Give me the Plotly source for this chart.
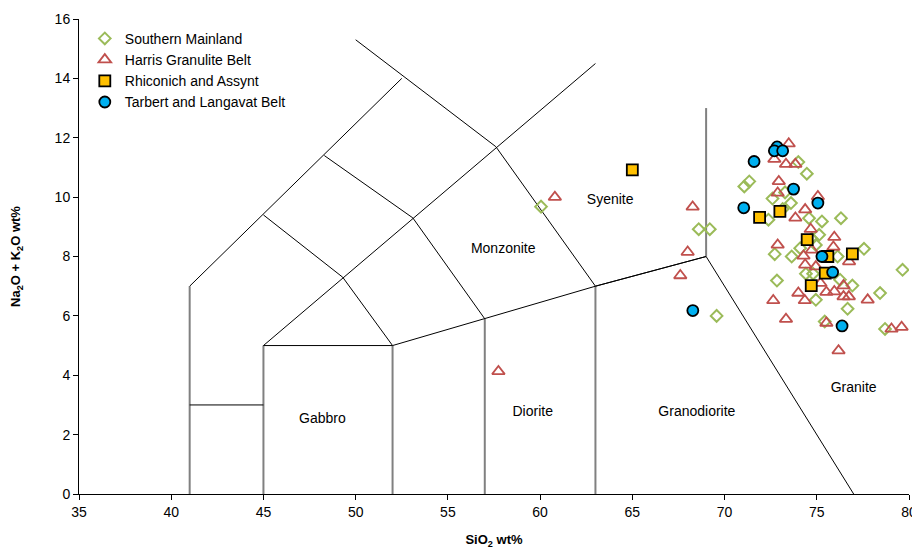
import plotly.graph_objects as go

# ---------------- data ----------------
sm_x = [60.05, 68.6, 69.2, 69.57, 74.0, 74.46, 71.34, 71.07, 73.28, 72.6, 73.6, 73.15, 76.31, 75.28,
        74.58, 72.38, 75.13, 74.73, 74.1, 77.56, 74.95, 72.72, 73.64, 76.13, 79.65, 72.84, 74.41,
        74.8, 76.26, 76.93, 78.43, 74.95, 76.67, 75.43, 78.7]
sm_y = [9.68, 8.92, 8.92, 6.0, 11.18, 10.79, 10.53, 10.36, 10.16, 9.95, 9.8, 9.6, 9.29, 9.18,
        9.29, 9.24, 8.73, 8.6, 8.28, 8.26, 8.39, 8.08, 8.0, 8.0, 7.55, 7.19, 7.42,
        7.42, 7.22, 7.02, 6.77, 6.54, 6.24, 5.81, 5.56]

hg_x = [60.8, 68.27, 68.0, 67.6, 57.74, 73.48, 72.7, 73.33, 73.84, 72.94, 72.88, 74.37, 73.84, 74.67,
        75.95, 72.88, 75.9, 74.28, 74.73, 76.75, 74.37, 74.95, 74.0, 74.35, 72.64, 75.52, 75.95,
        76.45, 76.45, 76.74, 77.76, 73.33, 75.52, 76.18, 79.05, 79.6, 75.06, 75.2]
hg_y = [10.0, 9.67, 8.15, 7.36, 4.13, 11.8, 11.28, 11.11, 11.11, 10.53, 10.14, 9.58, 9.3, 8.92,
        8.65, 8.39, 8.32, 8.02, 8.22, 7.83, 7.72, 7.66, 6.77, 6.52, 6.52, 6.8, 6.82,
        7.02, 6.65, 6.65, 6.54, 5.89, 5.76, 4.83, 5.56, 5.62, 10.02, 7.1]

ra_x = [65.0, 71.9, 73.0, 74.48, 76.93, 75.6, 75.46, 74.7]
ra_y = [10.92, 9.32, 9.52, 8.57, 8.09, 8.0, 7.44, 7.02]

tl_x = [72.85, 72.7, 73.15, 71.6, 73.74, 75.06, 71.04, 75.28, 75.86, 68.28, 76.37]
tl_y = [11.69, 11.56, 11.56, 11.2, 10.27, 9.8, 9.64, 8.0, 7.47, 6.18, 5.66]

# TAS (plutonic) field boundaries: black thin segments
black_x = [41, 52.5, None, 50, 57.6, 63, 69, 77, None, 45, 63, None,
           45, 49.3, 52, None, 48.3, 53.1, 57, None, 52, 57, 63, 69, None, 45, 52, None, 41, 45]
black_y = [7, 14, None, 15.3, 11.7, 7, 8, 0, None, 5, 14.5, None,
           9.4, 7.3, 5, None, 11.4, 9.3, 5.9, None, 5, 5.9, 7, 8, None, 5, 5, None, 3, 3]
# grey vertical segments
grey_x = [41, 41, None, 45, 45, None, 52, 52, None, 57, 57, None, 63, 63, None, 69, 69]
grey_y = [0, 7, None, 0, 5, None, 0, 5, None, 0, 5.9, None, 0, 7, None, 8, 13]

field_names = ["Gabbro", "Diorite", "Granodiorite", "Granite", "Monzonite", "Syenite"]
field_x = [48.2, 59.6, 68.5, 77.0, 58.0, 63.8]
field_y = [2.5, 2.75, 2.75, 3.55, 8.22, 9.88]

FONT = "Arial, Liberation Sans, sans-serif"

# ---------------- figure ----------------
fig = go.Figure()

fig.add_trace(go.Scatter(x=grey_x, y=grey_y, mode="lines", line=dict(color="#808080", width=2),
                         showlegend=False, hoverinfo="skip"))
fig.add_trace(go.Scatter(x=black_x, y=black_y, mode="lines", line=dict(color="black", width=1),
                         showlegend=False, hoverinfo="skip"))

fig.add_trace(go.Scatter(x=sm_x, y=sm_y, mode="markers", name="Southern Mainland",
                         marker=dict(symbol="diamond-open", size=9, color="#9BBB59",
                                     line=dict(width=2, color="#9BBB59"))))
fig.add_trace(go.Scatter(x=hg_x, y=hg_y, mode="markers", name="Harris Granulite Belt",
                         marker=dict(symbol="triangle-up-open", size=11, color="#C0504D",
                                     line=dict(width=1.8, color="#C0504D"))))
fig.add_trace(go.Scatter(x=ra_x, y=ra_y, mode="markers", name="Rhiconich and Assynt",
                         marker=dict(symbol="square", size=11, color="#FFC000",
                                     line=dict(width=1.8, color="black"))))
fig.add_trace(go.Scatter(x=tl_x, y=tl_y, mode="markers", name="Tarbert and Langavat Belt",
                         marker=dict(symbol="circle", size=11, color="#00B0F0",
                                     line=dict(width=1.8, color="black"))))

fig.add_trace(go.Scatter(x=field_x, y=field_y, mode="text", text=field_names,
                         textfont=dict(family=FONT, size=14, color="black"),
                         showlegend=False, hoverinfo="skip"))

# note: the page body adds an 8px offset, so margins are reduced by 8 on left/top
fig.update_layout(
    width=920, height=550,
    margin=dict(l=71, r=19, t=11, b=64, autoexpand=False),
    paper_bgcolor="white", plot_bgcolor="white",
    font=dict(family=FONT, size=14, color="black"),
    showlegend=True,
    legend=dict(x=0.007, y=0.992, xanchor="left", yanchor="top", bgcolor="rgba(0,0,0,0)",
                font=dict(size=14), itemwidth=30, tracegroupgap=0),
    xaxis=dict(range=[35, 80], dtick=5, showgrid=False, zeroline=False, showline=True,
               linecolor="black", linewidth=1, ticks="outside", ticklen=5, tickcolor="black",
               automargin=False, tickfont=dict(size=14),
               title=dict(text="<b>SiO<sub>2</sub> wt%</b>", font=dict(size=13), standoff=16)),
    yaxis=dict(range=[0, 16], dtick=2, showgrid=False, zeroline=False, showline=True,
               linecolor="black", linewidth=1, ticks="outside", ticklen=5, tickcolor="black",
               automargin=False, tickfont=dict(size=14),
               title=dict(text="<b>Na<sub>2</sub>O + K<sub>2</sub>O wt%</b>", font=dict(size=13),
                          standoff=42)),
)

fig.write_html("out.html")
